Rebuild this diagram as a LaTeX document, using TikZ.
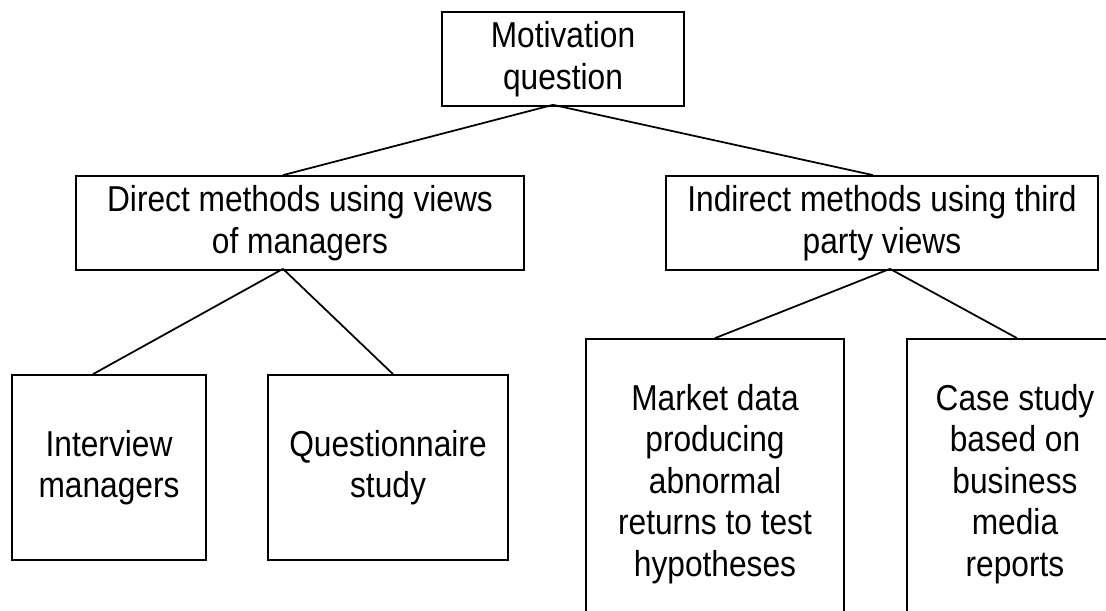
\documentclass[tikz,border=0pt]{standalone}
\usepackage{fontspec}
\setmainfont{Liberation Sans}[FakeStretch=0.88]
\usepackage{tikz}
\usetikzlibrary{positioning,calc}
\tikzset{
  methodbox/.style={draw=black,line width=1pt,fill=white,inner sep=0pt,align=center,
    font=\fontsize{20.5}{23.6}\selectfont},
  link/.style={line width=1pt,draw=black}
}

\begin{document}
\begin{tikzpicture}[x=0.02cm,y=-0.02cm]
  \path[fill=white,use as bounding box] (0,0) rectangle (1106,611);
  \clip (0,0) rectangle (1106,611);

  % top level
  \node[methodbox,minimum width=4.84cm,minimum height=1.88cm] (mot) at (563,59)
    {Motivation\\question};

  % second level
  \node[methodbox,minimum width=8.96cm,minimum height=1.88cm] (direct) at (300,223)
    {Direct methods using views\\of managers};
  \node[methodbox,minimum width=8.64cm,minimum height=1.88cm] (indirect) at (882,223)
    {Indirect methods using third\\party views};

  % leaves
  \node[methodbox,minimum width=3.88cm,minimum height=3.70cm] (interview) at (109,467.5)
    {Interview\\managers};
  \node[methodbox,minimum width=4.80cm,minimum height=3.70cm] (quest) at (388,467.5)
    {Questionnaire\\study};
  \node[methodbox,minimum width=5.16cm,minimum height=5.80cm] (market) at (715,484)
    {Market data\\producing\\abnormal\\returns to test\\hypotheses};
  \node[methodbox,minimum width=4.32cm,minimum height=5.80cm] (case) at (1015,484)
    {Case study\\based on\\business\\media\\reports};

  % attachment points
  \coordinate (motfoot)  at ([xshift=-0.2cm,yshift=0.04cm]mot.south);
  \coordinate (dirhead)  at ([xshift=-0.34cm]direct.north);
  \coordinate (indhead)  at ([xshift=-0.18cm]indirect.north);
  \coordinate (dirfoot)  at ([xshift=-0.34cm,yshift=0.04cm]direct.south);
  \coordinate (indfoot)  at ([xshift=0.16cm,yshift=0.04cm]indirect.south);
  \coordinate (intohead) at ([xshift=-0.32cm]interview.north);
  \coordinate (quehead)  at ([xshift=0.1cm]quest.north);
  \coordinate (markhead) at (market.north);
  \coordinate (casehead) at ([xshift=0.04cm]case.north);

  \draw[link] (motfoot)--(dirhead);
  \draw[link] (motfoot)--(indhead);
  \draw[link] (dirfoot)--(intohead);
  \draw[link] (dirfoot)--(quehead);
  \draw[link] (indfoot)--(markhead);
  \draw[link] (indfoot)--(casehead);
\end{tikzpicture}
\end{document}
